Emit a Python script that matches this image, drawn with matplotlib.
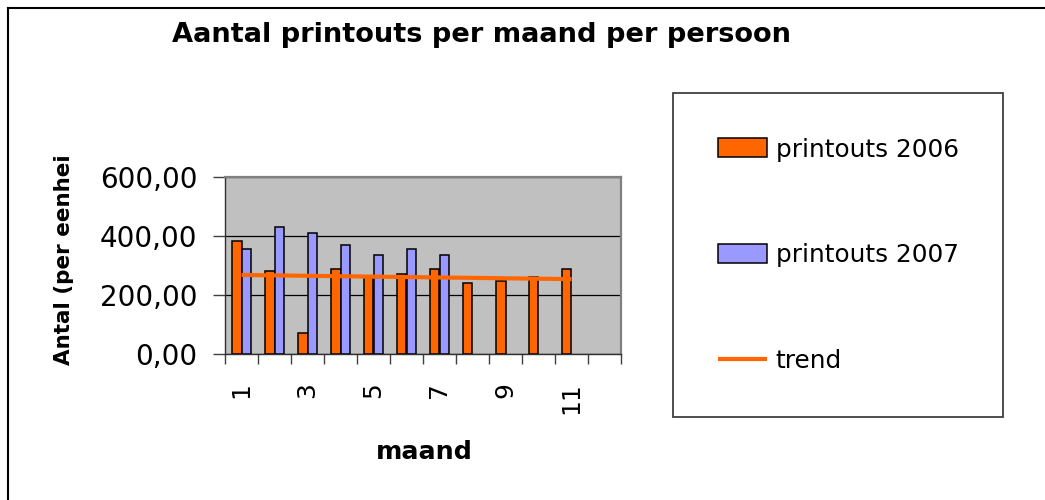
import matplotlib.pyplot as plt
from matplotlib.lines import Line2D
import numpy as np

# data
maanden = [1, 2, 3, 4, 5, 6, 7, 8, 9, 10, 11, 12]
printouts_2006 = [382, 282, 72, 289, 265, 270, 289, 240, 247, 261, 287]
printouts_2007 = [355, 429, 410, 370, 336, 356, 336]
trend_maanden = [1, 11]
trend_waarden = [268, 254]
x_labels = ['1', '3', '5', '7', '9', '11']
y_ticks = [0, 200, 400, 600]
y_labels = ['0,00', '200,00', '400,00', '600,00']

oranje = '#FF6600'
blauw = '#9999FF'

W, H = 1045, 500
fig = plt.figure(figsize=(W / 100, H / 100), dpi=100)
ax = fig.add_axes([225 / W, 1 - 354.3 / H, (621 - 225) / W, (354.3 - 176.7) / H])
ax.set_facecolor('#C0C0C0')

bw = 0.3
x06 = np.array(maanden[:len(printouts_2006)])
x07 = np.array(maanden[:len(printouts_2007)])
b06 = ax.bar(x06 - bw / 2, printouts_2006, bw, color=oranje, edgecolor='black',
             linewidth=1.1, label='printouts 2006', zorder=3)
b07 = ax.bar(x07 + bw / 2, printouts_2007, bw, color=blauw, edgecolor='black',
             linewidth=1.1, label='printouts 2007', zorder=3)
tr, = ax.plot(trend_maanden, trend_waarden, color=oranje, linewidth=3,
              label='trend', zorder=4, solid_capstyle='butt')

ax.set_xlim(maanden[0] - 0.5, maanden[-1] + 0.5)
ax.set_ylim(y_ticks[0], y_ticks[-1])
ax.set_yticks(y_ticks)
ax.set_yticklabels(y_labels)
ax.yaxis.grid(True, color='black', linewidth=0.9, zorder=1)
ax.set_axisbelow(True)

# labels on every second month, tick marks between the months
ax.set_xticks([int(s) for s in x_labels])
ax.set_xticklabels(x_labels, rotation=90)
ax.set_xticks(np.arange(maanden[0] - 0.5, maanden[-1] + 1), minor=True)
ax.tick_params(axis='x', which='major', length=0, pad=20, labelsize=18)
ax.tick_params(axis='x', which='minor', length=7.5, width=1, color='#404040')
ax.tick_params(axis='y', length=9, width=1, color='#404040', pad=11, labelsize=20)

for s in ['top', 'right']:
    ax.spines[s].set_color('#808080')
    ax.spines[s].set_linewidth(1.6)
for s in ['left', 'bottom']:
    ax.spines[s].set_color('#303030')
    ax.spines[s].set_linewidth(1)

fig.text(482 / W, 1 - 42 / H, 'Aantal printouts per maand per persoon',
         ha='center', va='baseline', fontsize=19.6, fontweight='bold')
fig.text(424 / W, 1 - 452 / H, 'maand', ha='center', va='center',
         fontsize=18.3, fontweight='bold')
fig.text(64 / W, 1 - 259.5 / H, 'Antal (per eenhei', ha='center', va='center',
         rotation=90, fontsize=15.5, fontweight='bold')

leg = fig.legend([b06, b07, tr], ['printouts 2006', 'printouts 2007', 'trend'],
                 loc='upper left', bbox_to_anchor=(673 / W, 1 - 93 / H),
                 fontsize=17.8, frameon=True, fancybox=False, framealpha=1,
                 edgecolor='#404040', borderpad=1.8, labelspacing=3.3,
                 handlelength=2.0, handleheight=0.81, handletextpad=0.36,
                 borderaxespad=0)
leg.get_frame().set_linewidth(1.3)

# outer chart border (only left and top are visible)
x0, y0 = 8 / W, 1 - 8 / H
fig.add_artist(Line2D([x0, x0], [0, y0], color='black', linewidth=1.5,
                      transform=fig.transFigure, solid_capstyle='projecting'))
fig.add_artist(Line2D([x0, 1], [y0, y0], color='black', linewidth=1.5,
                      transform=fig.transFigure, solid_capstyle='projecting'))

fig.savefig('out.png', dpi=100)
